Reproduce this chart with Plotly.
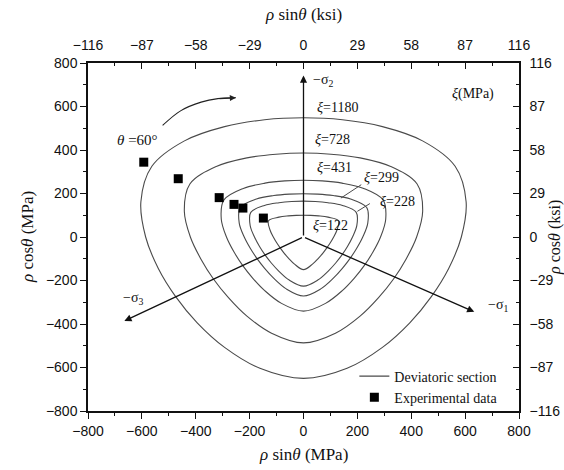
import numpy as np
import plotly.graph_objects as go

# Deviatoric sections: radius rho (MPa) read at theta = 0, 15, 30, 45, 60 deg
xi_values = [122, 228, 299, 431, 728, 1180]
rho_0 = [100, 165, 199, 261, 386, 548]
rho_15 = [103, 169, 204, 267, 394, 558]
rho_30 = [112, 182, 220, 286, 420, 586]
rho_45 = [129, 205, 247, 316, 458, 625]
rho_60 = [150, 226, 271, 341, 487, 650]

# Experimental points (rho sin(theta), rho cos(theta)) in MPa
exp_x = [-593, -465, -313, -258, -225, -149]
exp_y = [344, 268, 181, 150, 133, 87]

# Principal stress axis tips (MPa)
sig_names = ["\u2212\u03c3<sub>2</sub>", "\u2212\u03c3<sub>1</sub>", "\u2212\u03c3<sub>3</sub>"]
sig_tip_x = [0, 634, -665]
sig_tip_y = [742, -344, -386]
sig_lab_x = [74, 722, -632]
sig_lab_y = [718, -314, -283]

# xi label positions
xi_lab_x = [100, 350, 288, 114, 108, 127]
xi_lab_y = [51, 161, 273, 319, 447, 597]

# theta = 60 deg rotation arrow
rot_x = [-523, -455, -380, -318, -251]
rot_y = [513, 581, 620, 636, 640]

SERIF = "Liberation Serif"
SANS = "Liberation Sans"
CURVE = "#4a4a4a"

fig = go.Figure()

profiles = np.array([rho_0, rho_15, rho_30, rho_45, rho_60])
theta = np.arange(0, 361, 15)
t = theta % 120
k = np.where(t <= 60, t, 120 - t) // 15
for j, xi in enumerate(xi_values):
    rho = profiles[k, j]
    th = np.deg2rad(theta)
    fig.add_trace(go.Scatter(
        x=rho * np.sin(th), y=rho * np.cos(th), mode="lines",
        line=dict(color=CURVE, width=1.1, shape="spline", smoothing=1.0),
        name="Deviatoric section", showlegend=(j == 0), hoverinfo="skip"))

fig.add_trace(go.Scatter(
    x=exp_x, y=exp_y, mode="markers", name="Experimental data",
    marker=dict(symbol="square", size=9, color="black")))

# rotation arrow shaft
fig.add_trace(go.Scatter(
    x=rot_x, y=rot_y, mode="lines", showlegend=False, hoverinfo="skip",
    line=dict(color="#222", width=1.1, shape="spline")))

# secondary (ksi) axes carrier
fig.add_trace(go.Scatter(x=[None], y=[None], xaxis="x2", yaxis="y2",
                         showlegend=False, hoverinfo="skip"))

ann = []
for tx, ty in zip(sig_tip_x, sig_tip_y):
    ann.append(dict(x=tx, y=ty, ax=0, ay=0, xref="x", yref="y", axref="x", ayref="y",
                    showarrow=True, arrowhead=2, arrowsize=1.1, arrowwidth=1.3,
                    arrowcolor="#111", text=""))
for name, lx, ly in zip(sig_names, sig_lab_x, sig_lab_y):
    ann.append(dict(x=lx, y=ly, xref="x", yref="y", text=name, showarrow=False,
                    font=dict(family=SERIF, size=14, color="#111")))
for xi, lx, ly in zip(xi_values, xi_lab_x, xi_lab_y):
    ann.append(dict(x=lx, y=ly, xref="x", yref="y", text=f"<i>\u03be</i>={xi}",
                    showarrow=False, font=dict(family=SERIF, size=14, color="#111")))
# leaders for xi = 299 and xi = 228
ann.append(dict(x=139, y=179, ax=220, ay=245, xref="x", yref="y", axref="x", ayref="y",
                showarrow=True, arrowhead=0, arrowwidth=1, arrowcolor=CURVE, text=""))
ann.append(dict(x=200, y=118, ax=252, ay=158, xref="x", yref="y", axref="x", ayref="y",
                showarrow=True, arrowhead=0, arrowwidth=1, arrowcolor=CURVE, text=""))
# rotation arrow head
ann.append(dict(x=rot_x[-1], y=rot_y[-1], ax=rot_x[-2], ay=rot_y[-2], xref="x", yref="y",
                axref="x", ayref="y", showarrow=True, arrowhead=2, arrowsize=1.1,
                arrowwidth=1.1, arrowcolor="#222", text=""))
ann.append(dict(x=-615, y=444, xref="x", yref="y", text="<i>\u03b8</i> =60\u00b0",
                showarrow=False, font=dict(family=SERIF, size=15, color="#111")))
ann.append(dict(x=628, y=658, xref="x", yref="y", text="<i>\u03be</i>(MPa)",
                showarrow=False, font=dict(family=SERIF, size=14, color="#111")))
# axis titles
title_font = dict(family=SERIF, size=17, color="#111")
ann.append(dict(x=0.5, y=-0.126, xref="paper", yref="paper", showarrow=False,
                xanchor="center", yanchor="middle",
                text="<i>\u03c1</i> sin<i>\u03b8</i> (MPa)", font=title_font))
ann.append(dict(x=0.5, y=1.138, xref="paper", yref="paper", showarrow=False,
                xanchor="center", yanchor="middle",
                text="<i>\u03c1</i> sin<i>\u03b8</i> (ksi)", font=title_font))
ann.append(dict(x=-0.1415, y=0.5, xref="paper", yref="paper", showarrow=False,
                xanchor="center", yanchor="middle", textangle=-90,
                text="<i>\u03c1</i> cos<i>\u03b8</i> (MPa)", font=title_font))
ann.append(dict(x=1.0835, y=0.5, xref="paper", yref="paper", showarrow=False,
                xanchor="center", yanchor="middle", textangle=-90,
                text="<i>\u03c1</i> cos<i>\u03b8</i> (ksi)",
                font=dict(family=SERIF, size=16, color="#111")))

tick_font = dict(family=SANS, size=14, color="#111")
axis_common = dict(showgrid=False, zeroline=False, showline=True, linecolor="#111",
                   linewidth=1.5, tickfont=tick_font, tickcolor="#111", ticklen=6,
                   tickwidth=1.2, automargin=False)

fig.update_layout(
    width=564, height=470, margin=dict(l=88, r=45, t=63, b=59, autoexpand=False),
    paper_bgcolor="white", plot_bgcolor="white",
    xaxis=dict(range=[-800, 800], dtick=200, tick0=0, ticks="outside",
               minor=dict(dtick=100, ticklen=3, ticks="outside", tickcolor="#111"),
               **axis_common),
    yaxis=dict(range=[-800, 800], dtick=200, tick0=0, ticks="outside",
               minor=dict(dtick=100, ticklen=3, ticks="outside", tickcolor="#111"),
               **axis_common),
    xaxis2=dict(range=[-116, 116], dtick=29, tick0=0, ticks="inside", side="top",
                overlaying="x", anchor="y", ticklabelstandoff=6,
                minor=dict(dtick=14.5, ticklen=3, ticks="inside", tickcolor="#111"),
                **axis_common),
    yaxis2=dict(range=[-116, 116], dtick=29, tick0=0, ticks="inside", side="right",
                overlaying="y", anchor="x", ticklabelstandoff=6,
                minor=dict(dtick=14.5, ticklen=3, ticks="inside", tickcolor="#111"),
                **axis_common),
    legend=dict(x=0.618, y=0.145, xanchor="left", yanchor="top",
                bgcolor="rgba(0,0,0,0)", font=dict(family=SERIF, size=14, color="#111"),
                tracegroupgap=0, itemwidth=30),
    annotations=ann,
)

fig.write_html("out.html")
